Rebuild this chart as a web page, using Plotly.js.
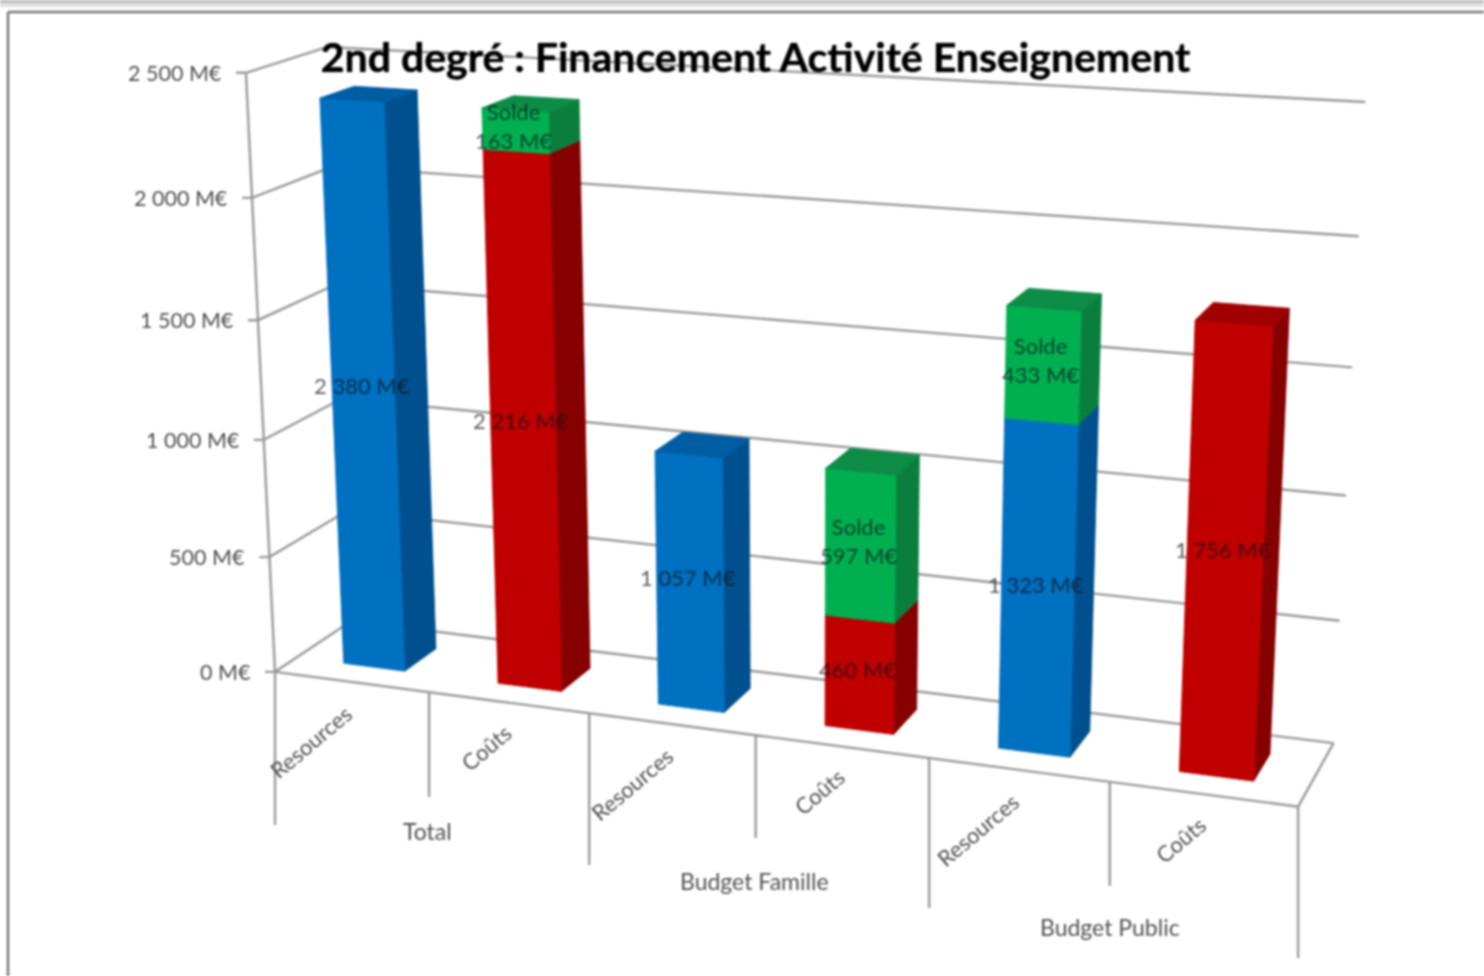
<!DOCTYPE html>
<html><head><meta charset="utf-8">
<script src="https://cdn.plot.ly/plotly-3.0.1.min.js"></script>
<style>html,body{margin:0;padding:0;background:#fff;overflow:hidden}#chart{width:1484px;height:976px;filter:blur(0.8px)}</style>
</head><body><div id="chart"></div>
<script>
// ---- data ----
const chartTitle = '2nd degré : Financement Activité Enseignement';
const categories = ['Resources','Coûts','Resources','Coûts','Resources','Coûts'];
const groups = ['Total','Budget Famille','Budget Public'];
const groupCentres = [1,3,5];
const blueValues  = [2380,0,1057,0,1323,0];
const redValues   = [0,2216,0,460,0,1756];
const greenValues = [0,163,0,597,433,0];
const valueTicks = [0,500,1000,1500,2000,2500];

// ---- picture frame of the slanted box: [category pos, value, depth(0 front,1 back), px, py] ----
const boxAnchors = [
 [0,0,0,275,672],[0,500,0,270,556],[0,1000,0,264,439],[0,1500,0,259,319],[0,2000,0,253,197],[0,2500,0,246,72],
 [1,0,0,428,692],[2,0,0,589,714],[3,0,0,757,736],[4,0,0,928,760],[5,0,0,1109,783],[6,0,0,1297,807],
 [6,0,1,1333,742],[6,500,1,1340,619],[6,1000,1,1347,493],[6,1500,1,1353,367],[6,2000,1,1359,238],[6,2500,1,1365,103],
 [0,0,1,352,622],[0,2500,1,325,49]
];
const tickDrop = [825,797,865,838,908,886,958];
const groupDrop = [139,146,145], groupShift = [-2,-1,0];
const barSpan = [0.31,0.71], barDepth = [0.28,0.71];

function fitProjection(pts){
  const n=11, A=Array.from({length:n},()=>Array(n+1).fill(0));
  const add=(r,t)=>{for(let i=0;i<n;i++){for(let j=0;j<n;j++)A[i][j]+=r[i]*r[j];A[i][n]+=r[i]*t;}};
  pts.forEach(([c,z,d,u,v])=>{
    const p=[c/6,z/2500,d,1]; u/=1000; v/=1000;
    add([...p,0,0,0,0,-u*p[0],-u*p[1],-u*p[2]],u);
    add([0,0,0,0,...p,-v*p[0],-v*p[1],-v*p[2]],v);
  });
  for(let i=0;i<n;i++){
    let m=i;for(let k=i+1;k<n;k++)if(Math.abs(A[k][i])>Math.abs(A[m][i]))m=k;
    [A[i],A[m]]=[A[m],A[i]];
    for(let k=0;k<n;k++)if(k!==i){const f=A[k][i]/A[i][i];for(let j=i;j<=n;j++)A[k][j]-=f*A[i][j];}
  }
  return A.map((r,i)=>r[n]/r[i]);
}
const P=fitProjection(boxAnchors);
function proj(c,z,d){
  const p=[c/6,z/2500,d,1];
  const w=P[8]*p[0]+P[9]*p[1]+P[10]*p[2]+1;
  return [1000*(P[0]*p[0]+P[1]*p[1]+P[2]*p[2]+P[3])/w, 1000*(P[4]*p[0]+P[5]*p[1]+P[6]*p[2]+P[7])/w];
}
const fmt=v=>String(v).replace(/\B(?=(\d{3})+$)/,' ')+' M€';

const traces=[];
const GRID='#999999';
function line(pts,w,col){traces.push({type:'scatter',mode:'lines',x:pts.map(p=>p[0]),y:pts.map(p=>p[1]),line:{color:col||GRID,width:w||2.4},hoverinfo:'skip',showlegend:false});}
function face(pts,col){const q=[...pts,pts[0]];traces.push({type:'scatter',mode:'lines',fill:'toself',fillcolor:col,x:q.map(p=>p[0]),y:q.map(p=>p[1]),line:{color:col,width:0.8},hoverinfo:'skip',showlegend:false});}

// wall grid + ticks
valueTicks.forEach(v=>{
  const a=proj(0,v,0);
  line([[a[0]-10,a[1]],a,proj(0,v,1),proj(6,v,1)]);
});
// floor front + right side
line([proj(0,0,0),proj(6,0,0),proj(6,0,1)]);
// left wall upright
line([proj(0,2500,0),proj(0,0,0),[proj(0,0,0)[0],tickDrop[0]]]);
// category separators
tickDrop.forEach((yb,i)=>{ if(i){const a=proj(i,0,0);line([a,[a[0],yb]]);} });

// bars
const COL={blue:['#0070C0','#00508F','#005CA3'],red:['#C00000','#870000','#A00000'],green:['#00B050','#0A7F3D','#0C8C45']};
function seg(i,z0,z1,c){
  const [l,r]=[i+barSpan[0],i+barSpan[1]],[f,b]=barDepth;
  face([proj(r,z0,f),proj(r,z0,b),proj(r,z1,b),proj(r,z1,f)],c[1]);
  face([proj(l,z0,f),proj(r,z0,f),proj(r,z1,f),proj(l,z1,f)],c[0]);
  face([proj(l,z1,f),proj(r,z1,f),proj(r,z1,b),proj(l,z1,b)],c[2]);
}
const anns=[];
const LABEL='rgba(15,15,25,0.68)';
function dataLabel(i,zm,text){
  const p=proj(i+0.5,zm,barDepth[0]);
  anns.push({x:p[0],y:p[1]-5,text,showarrow:false,xanchor:'center',yanchor:'middle',font:{family:'Lato',size:22,color:LABEL}});
}
categories.forEach((_,i)=>{
  let z=0;
  if(blueValues[i]){seg(i,0,blueValues[i],COL.blue);dataLabel(i,blueValues[i]/2,fmt(blueValues[i]));z=blueValues[i];}
  if(redValues[i]){seg(i,0,redValues[i],COL.red);dataLabel(i,redValues[i]/2,fmt(redValues[i]));z=redValues[i];}
  if(greenValues[i]){seg(i,z,z+greenValues[i],COL.green);dataLabel(i,z+greenValues[i]/2,'Solde<br>'+fmt(greenValues[i]));}
});

const TXT='#505050';
// value tick labels
valueTicks.forEach(v=>{
  const a=proj(0,v,0);
  anns.push({x:a[0]-22,y:a[1],text:fmt(v),showarrow:false,xanchor:'right',yanchor:'middle',font:{family:'Lato',size:21.5,color:TXT}});
});
// category labels
categories.forEach((c,i)=>{
  const a=proj(i+0.5,0,0), long=c.length>6;
  anns.push({x:a[0]+(long?-40:-22),y:a[1]+(long?60:45),text:c,showarrow:false,textangle:-40,xanchor:'center',yanchor:'middle',font:{family:'Lato',size:22,color:TXT}});
});
groups.forEach((g,k)=>{
  const a=proj(groupCentres[k],0,0);
  anns.push({x:a[0]+groupShift[k],y:a[1]+groupDrop[k],text:g,showarrow:false,xanchor:'center',yanchor:'middle',font:{family:'Lato',size:23,color:TXT}});
});

const layout={
  width:1484,height:976,margin:{l:0,r:0,t:0,b:0},paper_bgcolor:'#fff',plot_bgcolor:'#fff',showlegend:false,
  title:{text:chartTitle,font:{family:'Lato',size:41,color:'#000',weight:700,shadow:'0 0 1px #000'},x:755.5/1484,xanchor:'center',y:1-58/976,yanchor:'middle'},
  xaxis:{range:[0,1484],visible:false,fixedrange:true},
  yaxis:{range:[976,0],visible:false,fixedrange:true},
  annotations:anns,
  shapes:[
    {type:'rect',xref:'paper',yref:'paper',x0:0,x1:1,y0:1,y1:1-3/976,fillcolor:'#BDBDBD',line:{width:0},layer:'below'},
    {type:'rect',xref:'paper',yref:'paper',x0:0,x1:1,y0:1-3/976,y1:1-7/976,fillcolor:'#E0E0E0',line:{width:0},layer:'below'},
    {type:'line',xref:'paper',yref:'paper',x0:8/1484,x1:1,y0:1-12/976,y1:1-12/976,line:{color:'#777',width:2.5}},
    {type:'line',xref:'paper',yref:'paper',x0:8/1484,x1:8/1484,y0:0,y1:1-12/976,line:{color:'#777',width:2.5}}
  ]
};
Plotly.newPlot('chart',traces,layout,{staticPlot:true,displayModeBar:false});
</script></body></html>
